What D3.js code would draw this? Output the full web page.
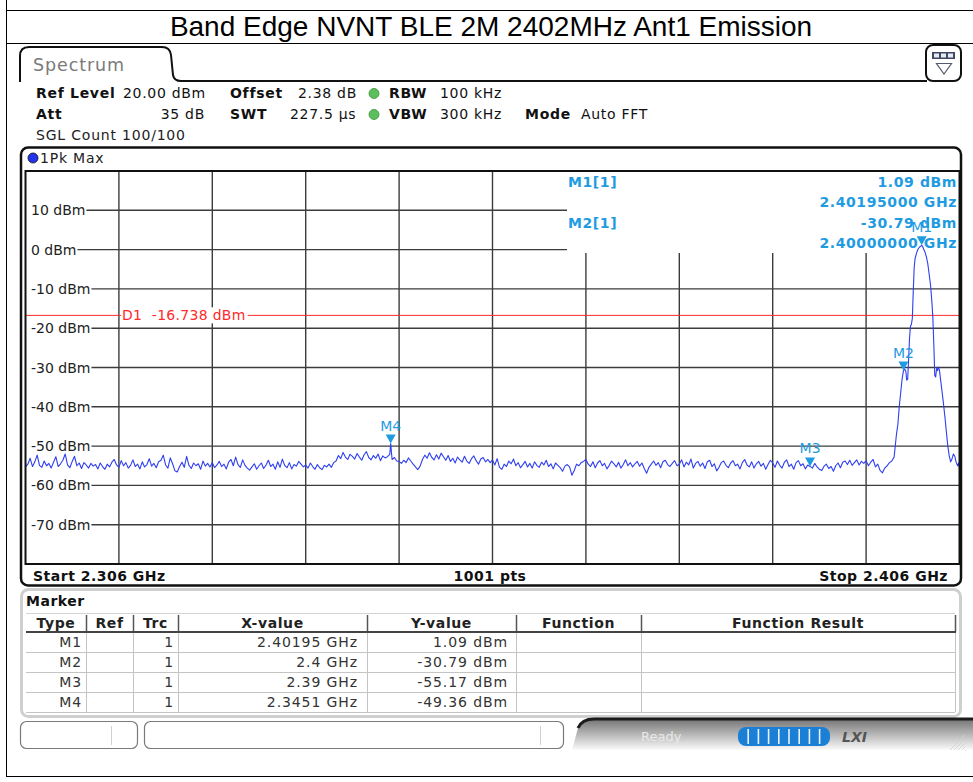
<!DOCTYPE html>
<html>
<head>
<meta charset="utf-8">
<script src="https://cdn.jsdelivr.net/npm/d3@7"></script>
<style>
  html, body { margin: 0; padding: 0; background: #fff; }
  svg { display: block; }
  text { font-family: "DejaVu Sans", "Noto Sans", sans-serif; }
</style>
</head>
<body>
<svg id="chart" width="973" height="782"></svg>
<script>
// ---- measurement setup -------------------------------------------------
const chartTitle = "Band Edge NVNT BLE 2M 2402MHz Ant1 Emission";
const startGHz = 2.306;
const stopGHz = 2.406;
const sweepPoints = 1001;
const refLevel = 20;
const bottomLevel = -80;
const levelTicks = [10, 0, -10, -20, -30, -40, -50, -60, -70];
const freqDivisions = [2.316, 2.326, 2.336, 2.346, 2.356, 2.366, 2.376, 2.386, 2.396];
const displayLine = -16.738;

// ---- trace: noise floor sampled every 0.25 MHz from 2306 MHz --------------
const noiseStartMHz = 2306;
const noiseStepMHz = 0.25;
const noiseLevels = [
  -55.3,-54.6,-53.1,-55.2,-54.0,-52.3,-54.9,-55.4,-53.8,-55.0,-54.4,-55.6,-54.1,-52.7,-55.2,-54.5,-53.6,-52.0,-54.8,-55.5,
  -53.9,-52.6,-55.0,-54.3,-55.7,-54.2,-54.8,-55.6,-54.4,-55.1,-54.7,-55.8,-54.3,-55.2,-55.9,-54.6,-55.3,-54.1,-53.4,-54.8,
  -55.4,-53.7,-55.0,-54.2,-55.6,-54.9,-53.5,-55.2,-54.6,-55.8,-54.0,-55.3,-54.7,-53.2,-55.1,-54.4,-55.5,-54.0,-53.6,-52.3,
  -54.8,-55.6,-53.0,-54.5,-56.3,-56.6,-55.2,-54.1,-55.4,-52.6,-54.9,-55.7,-54.3,-55.0,-54.5,-55.9,-53.8,-55.1,-54.4,-55.3,
  -54.2,-55.5,-54.8,-53.9,-55.2,-54.6,-55.8,-54.1,-53.4,-55.0,-52.8,-54.7,-55.4,-53.5,-54.9,-55.6,-56.1,-55.3,-54.5,-55.9,
  -55.0,-54.3,-55.7,-54.8,-53.6,-55.2,-54.6,-55.9,-54.0,-55.4,-53.3,-54.9,-55.5,-54.2,-55.8,-54.7,-55.1,-53.9,-54.6,-55.3,
  -54.8,-55.6,-54.3,-55.2,-55.9,-54.7,-55.5,-56.0,-54.9,-55.3,-54.6,-55.4,-54.2,-53.8,-52.4,-53.2,-51.6,-52.8,-53.4,-52.1,
  -52.6,-53.3,-51.9,-52.8,-53.6,-52.2,-51.4,-52.9,-53.5,-52.4,-53.1,-52.0,-53.7,-52.5,-53.0,-52.7,-52.1,-53.4,-52.9,-53.8,
  -53.9,-54.4,-53.6,-54.2,-53.0,-53.8,-54.6,-55.3,-56.0,-55.1,-53.4,-52.3,-53.1,-51.7,-52.9,-53.5,-52.2,-53.3,-51.8,-52.7,
  -53.6,-52.4,-53.9,-53.1,-54.3,-52.8,-53.5,-54.1,-52.6,-53.8,-54.4,-53.2,-52.5,-53.7,-54.6,-53.3,-52.9,-54.0,-53.4,-54.2,
  -53.5,-54.8,-53.2,-55.4,-55.9,-54.6,-55.2,-53.8,-54.5,-53.3,-55.0,-54.2,-55.5,-54.7,-53.9,-55.3,-54.4,-55.6,-54.0,-54.9,
  -55.4,-54.1,-54.8,-53.6,-55.2,-54.5,-55.8,-54.3,-54.9,-55.5,-56.4,-55.1,-54.7,-55.3,-57.4,-56.2,-54.6,-55.0,-54.2,-53.9,
  -53.4,-54.6,-55.2,-54.0,-55.5,-54.3,-53.7,-55.0,-54.4,-55.8,-54.9,-53.8,-54.5,-55.3,-54.1,-55.6,-54.7,-53.5,-55.0,-54.2,
  -55.3,-54.5,-53.9,-55.1,-54.3,-55.7,-56.9,-55.4,-54.6,-53.8,-54.9,-54.2,-55.5,-54.0,-53.6,-54.7,-55.2,-54.4,-53.7,-55.0,
  -54.6,-53.5,-55.3,-54.1,-54.8,-53.3,-55.6,-54.4,-53.9,-55.1,-54.3,-55.7,-54.0,-53.6,-55.2,-54.5,-56.3,-55.4,-54.2,-53.8,
  -54.9,-55.5,-54.3,-53.7,-55.0,-54.6,-55.8,-54.2,-53.4,-54.8,-55.3,-54.0,-55.6,-54.5,-53.9,-55.1,-54.4,-55.9,-54.7,-53.6,
  -54.3,-55.4,-53.8,-54.9,-55.6,-54.1,-53.5,-55.2,-54.6,-55.9,-54.2,-53.7,-55.0,-54.5,-55.8,-54.8,-55.17,-55.6,-54.4,-55.3,
  -55.9,-56.2,-55.1,-54.6,-55.7,-55.2,-56.4,-55.0,-54.3,-55.5,-54.1,-53.8,-54.7,-53.6,-54.9,-54.2,-53.5,-54.8,-53.9,-54.4,
  -53.7,-55.0,-54.1,-53.4,-55.3,-54.6,-56.2,-56.8,-55.6,-55.0,-54.2,-53.8
];

// ---- trace: isolated spur and the 2402 MHz carrier [MHz, dBm] -------------
const spurTrace = [[2345.1, -49.36]];
const carrierTrace = [
  [2399.00,-52.8],[2399.10,-50.5],[2399.25,-47.0],[2399.40,-44.5],[2399.55,-40.0],
  [2399.70,-36.5],[2399.85,-33.0],[2400.00,-30.79],[2400.12,-30.4],[2400.25,-30.9],
  [2400.35,-33.2],[2400.45,-33.0],[2400.55,-28.0],[2400.65,-22.5],[2400.75,-19.5],
  [2400.85,-19.0],[2400.95,-17.5],[2401.05,-10.5],[2401.15,-4.5],[2401.25,-2.2],
  [2401.40,-0.9],[2401.55,0.1],[2401.70,0.6],[2401.85,0.9],[2401.95,1.09],
  [2402.05,0.8],[2402.15,0.2],[2402.30,-0.6],[2402.45,-1.8],[2402.60,-3.5],
  [2402.75,-6.2],[2402.90,-9.0],[2403.05,-13.5],[2403.15,-17.5],[2403.25,-24.0],
  [2403.35,-32.0],[2403.45,-32.4],[2403.55,-30.2],[2403.65,-30.8],[2403.75,-29.9],
  [2403.85,-30.6],[2403.95,-32.6],[2404.10,-35.5],[2404.25,-38.5],[2404.45,-42.8],
  [2404.60,-46.5],[2404.75,-50.0],[2404.90,-52.5],[2405.05,-54.0],[2405.20,-53.2],
  [2405.35,-52.0],[2405.50,-52.6],[2405.65,-54.2],[2405.80,-55.0],[2405.90,-54.3],
  [2406.00,-55.6]
];

// ---- markers ----------------------------------------------------------------
const markerNames = ["M1", "M2", "M3", "M4"];
const markerTraces = [1, 1, 1, 1];
const markerFreqGHz = [2.40195, 2.4, 2.39, 2.3451];
const markerLevels = [1.09, -30.79, -55.17, -49.36];

// ---- instrument settings ------------------------------------------------------
const settingLabels = ["Ref Level", "Att", "Offset", "SWT", "RBW", "VBW", "Mode"];
const settingValues = ["20.00 dBm", "35 dB", "2.38 dB", "227.5 \u00b5s", "100 kHz", "300 kHz", "Auto FFT"];
const sweepCountText = "SGL Count 100/100";
const traceModeText = "1Pk Max";
const tableHeaders = ["Type", "Ref", "Trc", "X-value", "Y-value", "Function", "Function Result"];

// ============================================================================
const svg = d3.select("#chart");
const UI = '"DejaVu Sans", "Noto Sans", sans-serif';
const markerBlue = "#1f9be2";
const traceBlue = "#2e3ff0";

const x = d3.scaleLinear().domain([startGHz, stopGHz]).range([25.5, 959.5]);
const y = d3.scaleLinear().domain([bottomLevel, refLevel]).range([564, 171]);

// ---- outer document frame and title ----------------------------------------
svg.append("line").attr("x1", 6.5).attr("x2", 6.5).attr("y1", 0).attr("y2", 777)
  .attr("stroke", "#000").attr("stroke-width", 1);
[10.5, 43.5, 776.5].forEach(yy => {
  svg.append("line").attr("x1", 6).attr("x2", 973).attr("y1", yy).attr("y2", yy)
    .attr("stroke", "#000").attr("stroke-width", 1);
});
svg.append("text").attr("x", 491).attr("y", 36).attr("text-anchor", "middle")
  .style("font-family", '"Liberation Sans", Arial, sans-serif').style("font-size", "28px")
  .attr("fill", "#000").text(chartTitle);

// ---- tab header --------------------------------------------------------------
svg.append("path")
  .attr("d", "M20,82 L20,56 Q20,47 29,47 L162,47 Q170,47 171,55 L173,75 Q174,81 181,81 L927,81")
  .attr("fill", "none").attr("stroke", "#111").attr("stroke-width", 2);
svg.append("text").attr("x", 33).attr("y", 71).style("font-family", UI).style("font-size", "17.5px")
  .style("letter-spacing", "0.9px").attr("fill", "#7a7a7a").text("Spectrum");
// view selector button
svg.append("rect").attr("x", 926).attr("y", 45).attr("width", 35).attr("height", 36).attr("rx", 7)
  .attr("fill", "#fff").attr("stroke", "#111").attr("stroke-width", 2);
svg.append("rect").attr("x", 932).attr("y", 52).attr("width", 23).attr("height", 7).attr("fill", "#3e4a63");
[934, 941, 948].forEach(bx => svg.append("rect").attr("x", bx).attr("y", 53.5).attr("width", 5).attr("height", 4).attr("fill", "#e6e9f0"));
svg.append("path").attr("d", "M936.5,63.5 L951.5,63.5 L944,74 Z").attr("fill", "none")
  .attr("stroke", "#555c70").attr("stroke-width", 1.2);

// ---- setting rows ----------------------------------------------------------
const setFont = 14;
function setText(xx, yy, str, bold, anchor) {
  svg.append("text").attr("x", xx).attr("y", yy).attr("text-anchor", anchor || "start")
    .style("font-family", UI).style("font-size", setFont + "px").style("letter-spacing", "0.7px")
    .style("font-weight", bold ? "bold" : "normal").attr("fill", "#111").text(str);
}
setText(36, 98, settingLabels[0], true);  setText(123, 98, settingValues[0], false);
setText(36, 119, settingLabels[1], true); setText(205, 119, settingValues[1], false, "end");
setText(230, 98, settingLabels[2], true); setText(298, 98, settingValues[2], false);
setText(230, 119, settingLabels[3], true); setText(290, 119, settingValues[3], false);
setText(389, 98, settingLabels[4], true); setText(440, 98, settingValues[4], false);
setText(389, 119, settingLabels[5], true); setText(440, 119, settingValues[5], false);
setText(525, 119, settingLabels[6], true); setText(581, 119, settingValues[6], false);
svg.append("text").attr("x", 36).attr("y", 140).style("font-family", UI).style("font-size", setFont + "px")
  .style("letter-spacing", "0.8px").attr("fill", "#222").text(sweepCountText);
[93.5, 114.5].forEach(cy => {
  svg.append("circle").attr("cx", 374).attr("cy", cy).attr("r", 5)
    .attr("fill", "#5bbf5b").attr("stroke", "#3c8f3c").attr("stroke-width", 0.8);
});

// ---- diagram window frame --------------------------------------------------
svg.append("rect").attr("x", 21).attr("y", 147.5).attr("width", 940).attr("height", 438).attr("rx", 7)
  .attr("fill", "#fff").attr("stroke", "#111").attr("stroke-width", 2.5);
svg.append("circle").attr("cx", 33).attr("cy", 158).attr("r", 5)
  .attr("fill", "#2233ee").attr("stroke", "#111").attr("stroke-width", 0.8);
svg.append("text").attr("x", 40).attr("y", 163).style("font-family", UI).style("font-size", "14px")
  .style("letter-spacing", "0.8px").attr("fill", "#222").text(traceModeText);

// ---- grid ------------------------------------------------------------------
const grid = svg.append("g");
const gridColor = "#3c3c3c";
freqDivisions.forEach(f => {
  grid.append("line").attr("x1", x(f)).attr("x2", x(f)).attr("y1", y(refLevel)).attr("y2", y(bottomLevel))
    .attr("stroke", gridColor).attr("stroke-width", 1.4);
});
levelTicks.forEach(v => {
  const t = grid.append("text").attr("x", 31).attr("y", y(v) + 5)
    .style("font-family", UI).style("font-size", "14px").attr("fill", "#222").text(v + " dBm");
  const w = t.node().getComputedTextLength();
  grid.append("line").attr("x1", 31 + w + 1).attr("x2", x(stopGHz)).attr("y1", y(v)).attr("y2", y(v))
    .attr("stroke", gridColor).attr("stroke-width", 1.4);
});

// marker readout area (masks the grid in the upper right)
svg.append("rect").attr("x", 567).attr("y", y(refLevel) + 1).attr("width", x(stopGHz) - 567)
  .attr("height", 253 - y(refLevel) - 1).attr("fill", "#fff");

// display line D1
svg.append("line").attr("x1", x(startGHz)).attr("x2", x(stopGHz)).attr("y1", y(displayLine)).attr("y2", y(displayLine))
  .attr("stroke", "#ff2a2a").attr("stroke-width", 1);
const d1 = svg.append("text").attr("x", 122).attr("y", y(displayLine) + 5)
  .style("font-family", UI).style("font-size", "14px").style("letter-spacing", "0.3px").attr("fill", "#ff2a2a")
  .attr("xml:space", "preserve").style("white-space", "pre")
  .text("D1  " + displayLine.toFixed(3) + " dBm");
const d1w = d1.node().getComputedTextLength();
svg.insert("rect", function () { return d1.node(); })
  .attr("x", 121).attr("y", y(displayLine) - 8).attr("width", d1w + 3).attr("height", 16).attr("fill", "#fff");

// ---- trace -------------------------------------------------------------------
const tracePoints = noiseLevels.map((v, i) => [(noiseStartMHz + i * noiseStepMHz) / 1000, v])
  .concat(spurTrace.map(d => [d[0] / 1000, d[1]]))
  .concat(carrierTrace.map(d => [d[0] / 1000, d[1]]))
  .sort((a, b) => a[0] - b[0]);
svg.append("path").datum(tracePoints)
  .attr("d", d3.line().x(d => x(d[0])).y(d => y(d[1])))
  .attr("fill", "none").attr("stroke", traceBlue).attr("stroke-width", 1.1).attr("stroke-linejoin", "round");

// plot border
svg.append("rect").attr("x", x(startGHz)).attr("y", y(refLevel)).attr("width", x(stopGHz) - x(startGHz))
  .attr("height", y(bottomLevel) - y(refLevel)).attr("fill", "none").attr("stroke", "#111").attr("stroke-width", 2);

// ---- marker readouts -----------------------------------------------------------
const readoutFont = "14px";
[0, 1].forEach(i => {
  const top = 187 + i * 41;
  svg.append("text").attr("x", 568).attr("y", top).style("font-family", UI).style("font-size", readoutFont)
    .style("font-weight", "bold").style("letter-spacing", "0.6px").attr("fill", markerBlue)
    .text(markerNames[i] + "[" + markerTraces[i] + "]");
  svg.append("text").attr("x", 957).attr("y", top).attr("text-anchor", "end").style("font-family", UI)
    .style("font-size", readoutFont).style("font-weight", "bold").style("letter-spacing", "0.6px")
    .attr("fill", markerBlue).text(markerLevels[i].toFixed(2) + " dBm");
  svg.append("text").attr("x", 957).attr("y", top + 20).attr("text-anchor", "end").style("font-family", UI)
    .style("font-size", readoutFont).style("font-weight", "bold").style("letter-spacing", "0.6px")
    .attr("fill", markerBlue).text(markerFreqGHz[i].toFixed(8) + " GHz");
});

// ---- marker symbols --------------------------------------------------------------
markerNames.forEach((name, i) => {
  const mx = x(markerFreqGHz[i]), my = y(markerLevels[i]);
  svg.append("path").attr("d", `M${mx - 5},${my - 9} L${mx + 5},${my - 9} L${mx},${my} Z`).attr("fill", markerBlue);
  svg.append("text").attr("x", mx).attr("y", my - 13).attr("text-anchor", "middle")
    .style("font-family", UI).style("font-size", "14px").attr("fill", markerBlue).text(name);
});

// ---- sweep footer ------------------------------------------------------------------
function footText(xx, str, anchor) {
  svg.append("text").attr("x", xx).attr("y", 581).attr("text-anchor", anchor)
    .style("font-family", UI).style("font-size", "14px").style("font-weight", "bold")
    .style("letter-spacing", "0.5px").attr("fill", "#111").text(str);
}
footText(33, "Start " + startGHz + " GHz", "start");
footText(490, sweepPoints + " pts", "middle");
footText(948, "Stop " + stopGHz + " GHz", "end");

// ---- marker table --------------------------------------------------------------------
svg.append("rect").attr("x", 21.5).attr("y", 589.5).attr("width", 939).attr("height", 127).attr("rx", 7)
  .attr("fill", "#fff").attr("stroke", "#cfcfcf").attr("stroke-width", 3);
svg.append("text").attr("x", 26).attr("y", 606).style("font-family", UI).style("font-size", "14px")
  .style("font-weight", "bold").style("letter-spacing", "0.5px").attr("fill", "#111").text("Marker");

const colEdges = [26, 86, 133, 178, 367, 516, 641, 955];
const headTop = 613, headBottom = 632, rowH = 20;
svg.append("line").attr("x1", colEdges[0]).attr("x2", colEdges[7]).attr("y1", headTop + 0.5).attr("y2", headTop + 0.5)
  .attr("stroke", "#d4d4d4");
tableHeaders.forEach((h, i) => {
  svg.append("text").attr("x", (colEdges[i] + colEdges[i + 1]) / 2).attr("y", headBottom - 4)
    .attr("text-anchor", "middle").style("font-family", UI).style("font-size", "14px")
    .style("font-weight", "bold").style("letter-spacing", "0.6px").attr("fill", "#222").text(h);
});
colEdges.slice(1).forEach(cx => {
  svg.append("line").attr("x1", cx + 0.5).attr("x2", cx + 0.5).attr("y1", headTop + 2).attr("y2", headBottom)
    .attr("stroke", "#555").attr("stroke-width", 1.5);
  svg.append("line").attr("x1", cx + 0.5).attr("x2", cx + 0.5).attr("y1", headBottom).attr("y2", headBottom + rowH * 4)
    .attr("stroke", "#c4c4c4").attr("stroke-width", 1);
});
svg.append("line").attr("x1", colEdges[0]).attr("x2", colEdges[7] + 1).attr("y1", headBottom).attr("y2", headBottom)
  .attr("stroke", "#444").attr("stroke-width", 2);
const cellPad = [4, 4, 4, 9, 8, 4, 4];
markerNames.forEach((name, i) => {
  const top = headBottom + i * rowH;
  svg.append("line").attr("x1", colEdges[0]).attr("x2", colEdges[7]).attr("y1", top + rowH + 0.5).attr("y2", top + rowH + 0.5)
    .attr("stroke", "#c4c4c4");
  const cells = [name, "", String(markerTraces[i]), markerFreqGHz[i] + " GHz", markerLevels[i].toFixed(2) + " dBm", "", ""];
  cells.forEach((c, j) => {
    if (!c) return;
    svg.append("text").attr("x", colEdges[j + 1] - cellPad[j]).attr("y", top + 15).attr("text-anchor", "end")
      .style("font-family", UI).style("font-size", "14px").style("letter-spacing", "0.9px")
      .attr("fill", "#333").text(c);
  });
});

// ---- status bar ----------------------------------------------------------------------
const defs = svg.append("defs");
const grad = defs.append("linearGradient").attr("id", "statusGrad").attr("x1", 0).attr("x2", 0).attr("y1", 0).attr("y2", 1);
grad.append("stop").attr("offset", "0%").attr("stop-color", "#747474");
grad.append("stop").attr("offset", "100%").attr("stop-color", "#fbfbfb");
svg.append("path").attr("d", "M572,750 L578,728 Q582,719 594,719 L973,719 L973,750 Z").attr("fill", "url(#statusGrad)");
svg.append("path").attr("d", "M578,728 Q582,719 594,719 L973,719").attr("fill", "none").attr("stroke", "#1b1b1b").attr("stroke-width", 3);
svg.append("rect").attr("x", 20.5).attr("y", 721.5).attr("width", 117).attr("height", 27).attr("rx", 6)
  .attr("fill", "#fff").attr("stroke", "#7a7a7a").attr("stroke-width", 1.2);
svg.append("line").attr("x1", 111.5).attr("x2", 111.5).attr("y1", 726).attr("y2", 745).attr("stroke", "#d0d0d0");
svg.append("rect").attr("x", 144.5).attr("y", 721.5).attr("width", 419).attr("height", 27).attr("rx", 6)
  .attr("fill", "#fff").attr("stroke", "#7a7a7a").attr("stroke-width", 1.2);
svg.append("line").attr("x1", 540.5).attr("x2", 540.5).attr("y1", 726).attr("y2", 745).attr("stroke", "#d0d0d0");
svg.append("text").attr("x", 641).attr("y", 741).style("font-family", UI).style("font-size", "13px")
  .attr("fill", "#e8e8e8").text("Ready");
svg.append("rect").attr("x", 738).attr("y", 727).attr("width", 92).attr("height", 19).attr("rx", 8).attr("fill", "#1c7fd6");
d3.range(1, 9).forEach(k => {
  svg.append("line").attr("x1", 738 + k * 10.2).attr("x2", 738 + k * 10.2).attr("y1", 729).attr("y2", 744)
    .attr("stroke", "#e8f2fb").attr("stroke-width", 1.6);
});
svg.append("text").attr("x", 842).attr("y", 742).style("font-family", UI).style("font-size", "14px")
  .style("font-weight", "bold").style("font-style", "italic").attr("fill", "#555").text("LXI");
d3.range(0, 5).forEach(k => {
  svg.append("line").attr("x1", 950 + k * 4).attr("y1", 750).attr("x2", 965).attr("y2", 735 + k * 4)
    .attr("stroke", "#cfcfcf").attr("stroke-width", 0.8);
});
</script>
</body>
</html>
